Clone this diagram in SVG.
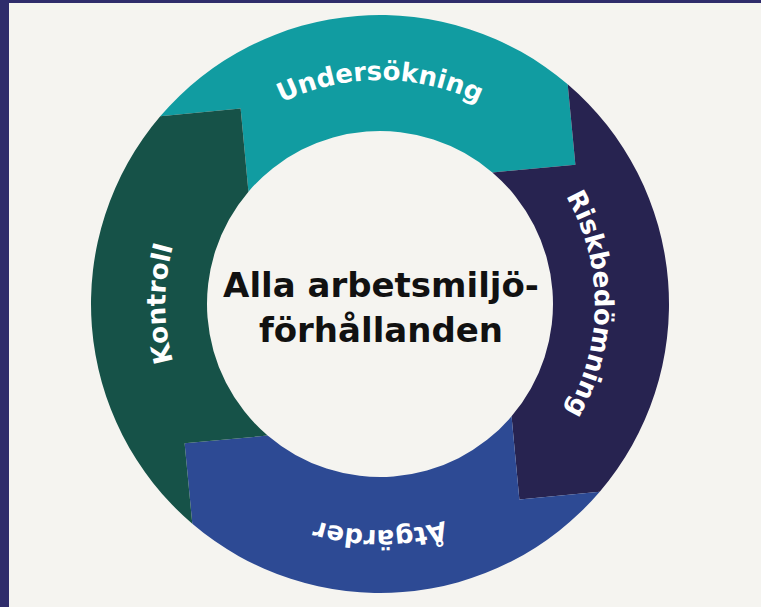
<svg xmlns="http://www.w3.org/2000/svg" width="761" height="607" viewBox="0 0 761 607">
  <style>
    .lbl { font-family: "DejaVu Sans", "Liberation Sans", sans-serif; font-weight: bold; font-size: 26px; fill: #ffffff; }
    .center { font-family: "DejaVu Sans", "Liberation Sans", sans-serif; font-weight: bold; font-size: 34px; fill: #111111; text-anchor: middle; }
  </style>
  <defs>
    <path id="seg" d="M 0 -289 A 289 289 0 0 1 289 0 L 232.87 58.06 L 173 0 A 173 173 0 0 0 0 -173 L 58.06 -232.87 Z"/>
    <path id="arcTop" d="M 159.4 265.1 A 224 224 0 0 1 600.6 265.1"/>
    <path id="arcRight" d="M 417.3 92.3 A 215 215 0 0 1 417.3 515.7"/>
    <path id="arcBottom" d="M 602.6 343.2 A 226 226 0 0 1 157.4 343.2"/>
    <path id="arcLeft" d="M 342.7 515.7 A 215 215 0 0 1 342.7 92.3"/>
  </defs>
  <rect x="0" y="0" width="761" height="607" fill="#2f2c6b"/>
  <rect x="9" y="3" width="752" height="604" fill="#f5f4f0"/>

  <g id="connectors"></g>

  <g id="undersokning">
    <use href="#seg" transform="translate(380,304) rotate(-49.5)" fill="#119ca1"/>
    <text class="lbl"><textPath href="#arcTop" startOffset="50%" text-anchor="middle">Undersökning</textPath></text>
  </g>
  <g id="riskbedomning">
    <use href="#seg" transform="translate(380,304) rotate(40.5)" fill="#272350"/>
    <text class="lbl"><textPath href="#arcRight" startOffset="50%" text-anchor="middle">Riskbedömning</textPath></text>
  </g>
  <g id="atgarder">
    <use href="#seg" transform="translate(380,304) rotate(130.5)" fill="#2d4a94"/>
    <text class="lbl"><textPath href="#arcBottom" startOffset="50%" text-anchor="middle">Åtgärder</textPath></text>
  </g>
  <g id="kontroll">
    <use href="#seg" transform="translate(380,304) rotate(220.5)" fill="#165248"/>
    <text class="lbl"><textPath href="#arcLeft" startOffset="50%" text-anchor="middle">Kontroll</textPath></text>
  </g>

  <g id="center">
    <text class="center" x="381" y="297">Alla arbetsmiljö-</text>
    <text class="center" x="381" y="342">förhållanden</text>
  </g>
</svg>
